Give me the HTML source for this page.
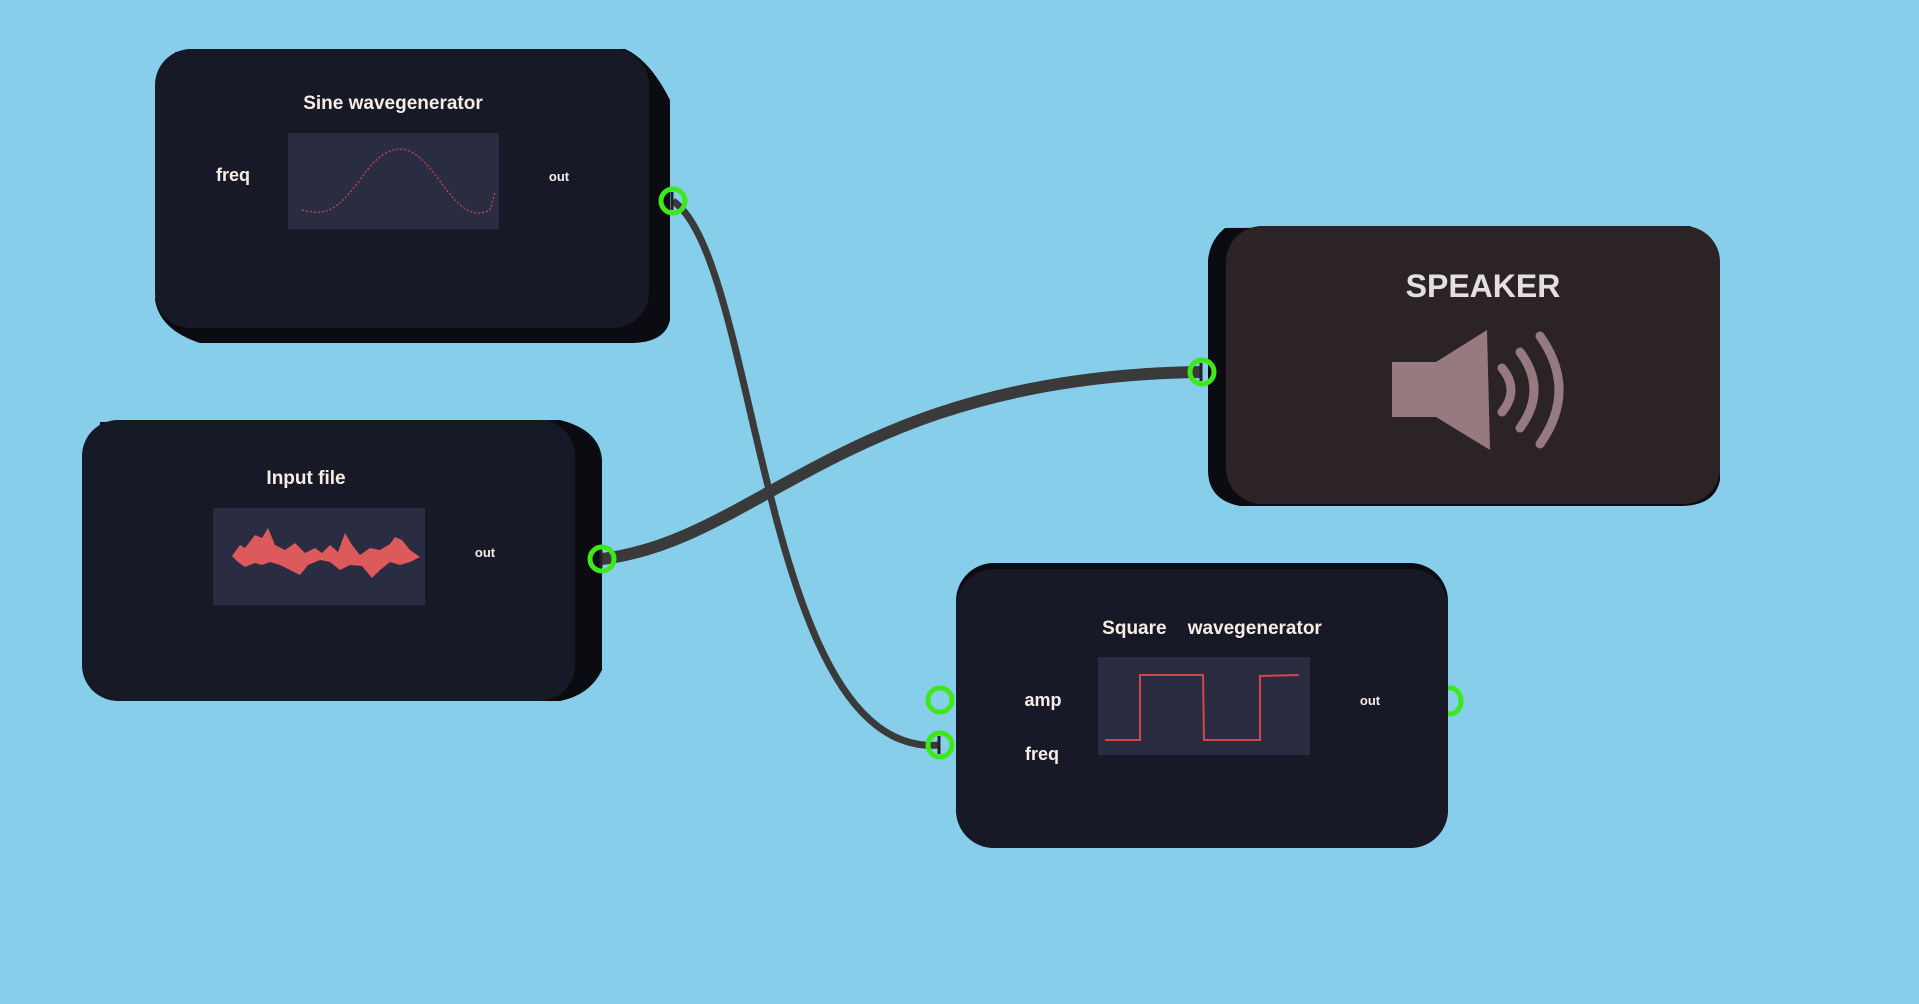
<!DOCTYPE html>
<html><head><meta charset="utf-8"><style>
html,body{margin:0;padding:0}
body{width:1919px;height:1004px;background:#87ceeb;position:relative;overflow:hidden;font-family:"Liberation Sans",sans-serif}
</style></head><body>
<svg width="1919" height="1004" style="position:absolute;left:0;top:0">
<path d="M175,52 L625,49 Q650,60 670,100 L670,320 Q665,343 630,343 L200,343 Q160,330 155,300 Z" fill="#0b0c12"/>
<rect x="155" y="49" width="494" height="279" rx="36" fill="#171926"/>
<text x="393" y="109" text-anchor="middle" fill="#f7ece6" font-size="19" font-weight="bold">Sine wavegenerator</text>
<rect x="288" y="133" width="211" height="96" fill="#2a2c42"/>
<path d="M302,210 C330,218 340,205 360,180 C380,150 400,140 420,158 C445,180 460,225 490,210 L495,192" fill="none" stroke="#c84a55" stroke-width="1.2" stroke-dasharray="2 2"/>
<text x="233" y="181" text-anchor="middle" fill="#f7ece6" font-size="18" font-weight="bold">freq</text>
<text x="559" y="181" text-anchor="middle" fill="#f7ece6" font-size="13" font-weight="bold">out</text>

<path d="M100,422 L560,420 Q600,430 602,460 L602,670 Q590,695 560,701 L120,701 Q82,690 82,660 Z" fill="#0b0c12"/>
<rect x="82" y="420" width="493" height="281" rx="36" fill="#171926"/>
<text x="306" y="484" text-anchor="middle" fill="#f7ece6" font-size="19" font-weight="bold">Input file</text>
<rect x="213" y="508" width="212" height="97" fill="#2a2c42"/>
<path d="M232,556 L240,545 245,548 255,535 262,538 268,528 275,545 285,550 295,543 305,553 315,548 322,553 330,545 338,552 345,533 352,545 360,555 370,548 380,550 390,544 395,537 402,540 410,550 420,557 410,562 400,565 390,562 380,570 372,578 362,566 350,565 340,570 330,562 320,560 308,565 300,575 290,570 280,565 270,562 262,565 255,563 245,567 238,562 Z" fill="#dc5a5c"/>
<text x="485" y="557" text-anchor="middle" fill="#f7ece6" font-size="13" font-weight="bold">out</text>

<path d="M1225,228 L1690,226 Q1720,240 1720,270 L1720,480 Q1715,506 1680,506 L1240,506 Q1208,500 1208,470 L1208,260 Q1210,240 1225,228 Z" fill="#0b0c12"/>
<rect x="1226" y="226" width="494" height="278" rx="36" fill="#2b2326"/>
<text x="1483" y="297" text-anchor="middle" fill="#e4e0e0" font-size="32" font-weight="bold">SPEAKER</text>
<g fill="#977980" stroke="#977980">
<rect x="1392" y="362" width="44" height="55" stroke="none"/>
<path d="M1436,362 L1487,330 L1490,450 L1436,417 Z" stroke="none"/>
<path d="M1502,368 Q1520,390 1502,412" fill="none" stroke-width="9" stroke-linecap="round"/>
<path d="M1520,352 Q1548,390 1520,428" fill="none" stroke-width="9" stroke-linecap="round"/>
<path d="M1540,336 Q1578,390 1540,444" fill="none" stroke-width="9" stroke-linecap="round"/>
</g>

<ellipse cx="1450" cy="701" rx="11" ry="13" fill="none" stroke="#3fe81a" stroke-width="5"/>
<rect x="956" y="563" width="492" height="285" rx="38" fill="#0b0c12"/>
<rect x="956" y="569" width="492" height="279" rx="38" fill="#171926"/>
<text x="1212" y="634" text-anchor="middle" fill="#f7ece6" font-size="19" font-weight="bold" xml:space="preserve">Square    wavegenerator</text>
<rect x="1098" y="657" width="212" height="98" fill="#2a2c42"/>
<path d="M1105,740 L1140,740 L1140,675 L1203,675 L1204,740 L1260,740 L1260,676 L1299,675" fill="none" stroke="#d0474c" stroke-width="2"/>
<text x="1043" y="706" text-anchor="middle" fill="#f7ece6" font-size="18" font-weight="bold">amp</text>
<text x="1042" y="760" text-anchor="middle" fill="#f7ece6" font-size="18" font-weight="bold">freq</text>
<text x="1370" y="705" text-anchor="middle" fill="#f7ece6" font-size="13" font-weight="bold">out</text>

<path d="M673,201 C760,260 760,760 940,745" fill="none" stroke="#3a3a3a" stroke-width="7"/>
<path d="M602,559 C760,540 850,376 1202,372" fill="none" stroke="#3a3a3a" stroke-width="12"/>

<g fill="none" stroke="#3fe81a" stroke-width="5">
<circle cx="673" cy="201" r="12"/>
<circle cx="602" cy="559" r="12"/>
<circle cx="1202" cy="372" r="12"/>
<circle cx="940" cy="700" r="12"/>
<circle cx="940" cy="745" r="12"/>
</g>
<g stroke="#222" stroke-width="3">
<line x1="672" y1="192" x2="672" y2="210"/>
<line x1="601" y1="550" x2="601" y2="568"/>
<line x1="1201" y1="363" x2="1201" y2="381"/>
<line x1="939" y1="736" x2="939" y2="754"/>
</g>
</svg>
</body></html>
